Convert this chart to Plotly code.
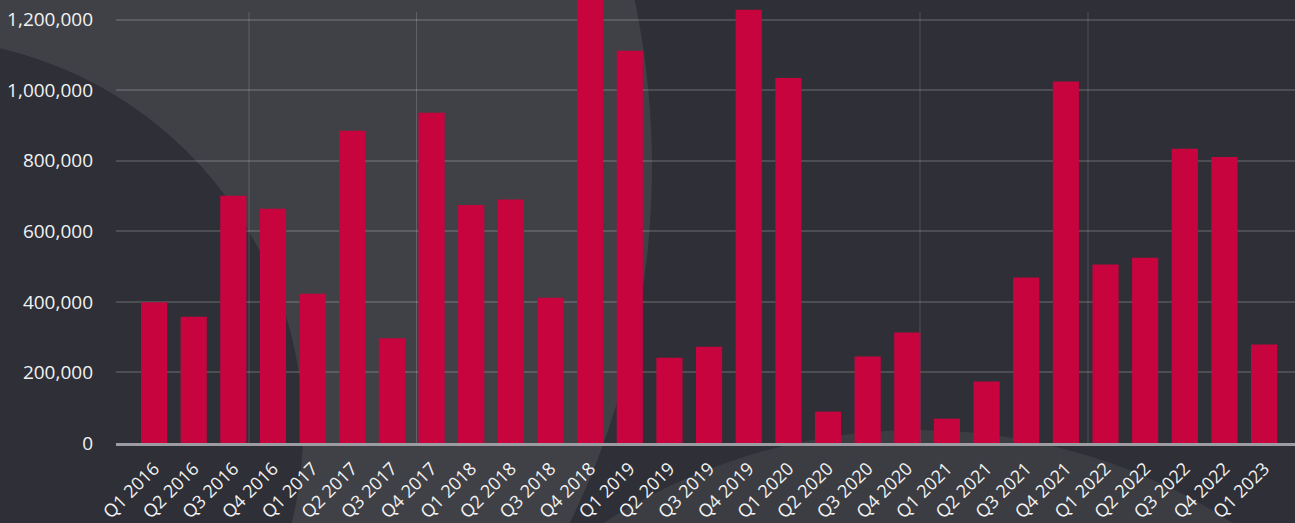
import plotly.graph_objects as go

categories = ["Q1 2016", "Q2 2016", "Q3 2016", "Q4 2016",
              "Q1 2017", "Q2 2017", "Q3 2017", "Q4 2017",
              "Q1 2018", "Q2 2018", "Q3 2018", "Q4 2018",
              "Q1 2019", "Q2 2019", "Q3 2019", "Q4 2019",
              "Q1 2020", "Q2 2020", "Q3 2020", "Q4 2020",
              "Q1 2021", "Q2 2021", "Q3 2021", "Q4 2021",
              "Q1 2022", "Q2 2022", "Q3 2022", "Q4 2022",
              "Q1 2023"]
values = [399000, 358000, 701000, 664000,
          423000, 885000, 297000, 936000,
          675000, 690000, 412000, 1300000,
          1112000, 242000, 273000, 1228000,
          1035000, 89000, 245000, 313000,
          69000, 174000, 469000, 1025000,
          506000, 525000, 834000, 811000,
          279000]
y_ticks = [0, 200000, 400000, 600000, 800000, 1000000, 1200000]

W, H = 1295, 523
ML, MR, MT, MB = 116, 0, 0, 80
PW, PH = W - ML - MR, H - MT - MB

def px_x(p):
    return (p - ML) / PW

def px_y(p):
    return (H - MB - p) / PH

def circle(cx, cy, r, color):
    return dict(type="circle", xref="paper", yref="paper",
                x0=px_x(cx - r), x1=px_x(cx + r),
                y0=px_y(cy + r), y1=px_y(cy - r),
                fillcolor=color, line=dict(width=0), layer="below")

BG = "#2e2f37"
LIGHT = "#404147"
shapes = [
    circle(-160, 167, 812, LIGHT),
    circle(-89, 430, 392, BG),
    circle(918, 1009, 579, "#3c3d43"),
]
for vx in [249, 416.5, 920, 1088]:
    shapes.append(dict(type="line", xref="paper", yref="paper",
                       x0=px_x(vx), x1=px_x(vx), y0=0, y1=px_y(12),
                       line=dict(color="rgba(255,255,255,0.17)", width=1),
                       layer="below"))

fig = go.Figure()
fig.add_trace(go.Bar(x=categories, y=values, marker_color="#c8043f",
                     marker_line_width=0, width=0.66))

fig.update_layout(
    width=W, height=H,
    margin=dict(l=ML, r=MR, t=MT, b=MB, autoexpand=False),
    paper_bgcolor=BG,
    plot_bgcolor="rgba(0,0,0,0)",
    shapes=shapes,
    showlegend=False,
    font=dict(family="Open Sans", color="#f2f2f2", size=18),
)
fig.update_xaxes(
    type="category",
    range=[-0.96, 28.78],
    tickangle=-45,
    tickfont=dict(size=18),
    showgrid=False,
    showline=True, linecolor="#9c9ca2", linewidth=3,
    ticks="outside", ticklen=5, tickcolor="rgba(0,0,0,0)",
    automargin=False,
)
fig.update_yaxes(
    range=[0, 1255900],
    tickvals=y_ticks,
    tickformat=",",
    showgrid=True, gridcolor="rgba(255,255,255,0.15)", gridwidth=1.5,
    zeroline=False,
    ticklabelstandoff=22,
    tickfont=dict(size=19),
    automargin=False,
)

fig.write_html("out.html",
               config={"displayModeBar": False},
               post_script="document.body.style.margin='0';"
                           "document.body.style.background='#2e2f37';")
